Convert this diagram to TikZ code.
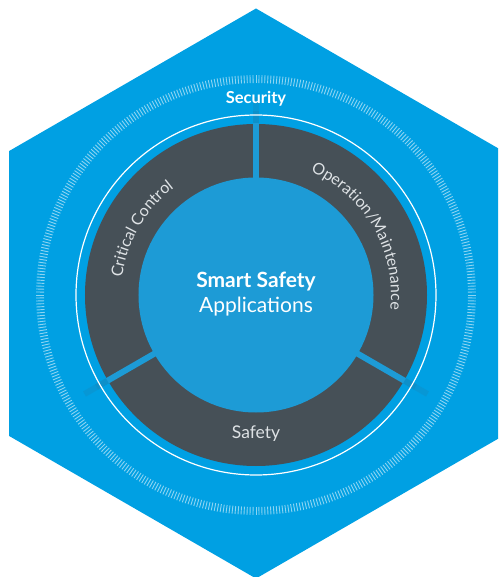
\documentclass[tikz,border=0pt]{standalone}
\usepackage{fontspec}
\setmainfont{Lato}
\usetikzlibrary{decorations.text}
\definecolor{hexblue}{RGB}{0,160,227}
\definecolor{innerblue}{RGB}{29,155,214}
\definecolor{darkring}{RGB}{70,80,87}
\definecolor{ringtext}{RGB}{222,226,229}
\tikzset{
  tickline/.style={white, opacity=0.55, line width=0.9pt},
  divider/.style={innerblue, line width=6pt},
  dividerfade/.style={innerblue!85!black, line width=6pt},
  ringlabel/.style={text=ringtext, font=\fontsize{17.5}{20}\selectfont},
  centerlabel/.style={text=white, font=\fontsize{21}{24}\selectfont},
}
\begin{document}
\begin{tikzpicture}[x=1pt,y=1pt]
\useasboundingbox (-256,-282) rectangle (242,295);
\clip (-256,-282) rectangle (242,295);
% hexagon
\fill[hexblue, shift={(0,1.5)}] (90:285) -- (150:285) -- (210:285) -- (270:285) -- (330:285) -- (30:285) -- cycle;
% tick ring
\foreach \i [evaluate=\i as \a using \i*0.782609] in {1,...,460}
  \draw[tickline] (\a:212) -- (\a:220);
% faded divider extensions
\foreach \a in {90,210,330}{
  \draw[dividerfade, opacity=0.55] (\a:170) -- (\a:184);
  \draw[dividerfade, opacity=0.3] (\a:184) -- (\a:198);
}
% white circle
\draw[white, line width=1.2pt] (0,0) circle (180);
% dark ring
\fill[darkring, even odd rule] (0,0) circle (171) (0,0) circle (117);
% inner circle
\fill[innerblue] (0,0) circle (117.5);
% dividers
\foreach \a in {90,210,330}
  \draw[divider] (\a:116) -- (\a:171.5);
% texts
\node[text=white, font=\bfseries\fontsize{16.5}{19}\selectfont] (security) at (0,196) {Security};
\node[centerlabel, font=\bfseries\fontsize{21}{24}\selectfont] (smart) at (0,13) {Smart Safety};
\node[centerlabel] (apps) at (0,-12) {Applications};
\node[ringlabel] (safety) at (0,-139) {Safety};
\path[decorate, decoration={text along path, text align=center,
  text={|\color{ringtext}\fontsize{16}{18}\selectfont|Critical Control}}]
  (210:135) arc[start angle=210, end angle=90, radius=135];
\path[decorate, decoration={text along path, text align=center,
  text={|\color{ringtext}\fontsize{16}{18}\selectfont|Operation/Maintenance}}]
  (90:135) arc[start angle=90, end angle=-30, radius=135];
\end{tikzpicture}
\end{document}
